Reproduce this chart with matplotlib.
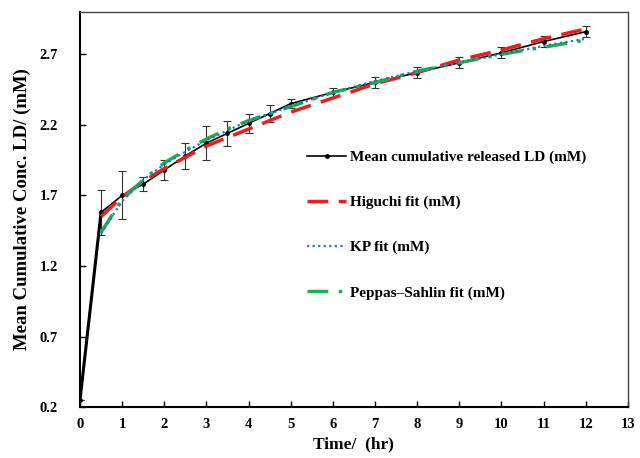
import matplotlib.pyplot as plt

# sampling times (hr)
time = [0, 0.5, 1, 1.5, 2, 2.5, 3, 3.5, 4, 4.5, 5, 6, 7, 8, 9, 10, 11, 12]
mean_ld = [0.25, 1.58, 1.70, 1.78, 1.88, 1.98, 2.07, 2.14, 2.21, 2.28, 2.35,
           2.43, 2.50, 2.57, 2.64, 2.71, 2.79, 2.86]
err_ld = [0.0, 0.16, 0.17, 0.05, 0.07, 0.09, 0.12, 0.09, 0.07, 0.06, 0.03,
          0.03, 0.04, 0.04, 0.04, 0.04, 0.04, 0.04]

# fitted curves (from t = 0.5 hr)
fit_time = time[1:]
higuchi = [1.55, 1.69, 1.80, 1.89, 1.97, 2.05, 2.11, 2.17, 2.23, 2.29,
           2.39, 2.49, 2.57, 2.66, 2.73, 2.81, 2.88]
kp = [1.43, 1.66, 1.81, 1.92, 2.01, 2.09, 2.16, 2.23, 2.28, 2.33,
      2.43, 2.51, 2.58, 2.64, 2.70, 2.76, 2.81]
peppas = [1.44, 1.67, 1.81, 1.93, 2.02, 2.10, 2.17, 2.23, 2.28, 2.33,
          2.43, 2.50, 2.58, 2.64, 2.70, 2.75, 2.80]

plt.rcParams['font.family'] = ['Liberation Serif', 'DejaVu Serif']
plt.rcParams['font.weight'] = 'bold'

fig = plt.figure(figsize=(6.4, 4.58), dpi=100)
ax = fig.add_axes([0.125, 0.111, 0.856, 0.863])

ax.errorbar(time, mean_ld, yerr=err_ld, fmt='none', ecolor='#333333',
            elinewidth=0.8, capsize=3, capthick=0.8, zorder=2)
ax.plot(time[:2], mean_ld[:2], color='black', lw=2.2, zorder=3)
ax.plot(time, mean_ld, color='black', lw=1.2, marker='o', markersize=2.5,
        label='Mean cumulative released LD (mM)', zorder=3)
ax.plot(fit_time, higuchi, color='#ee1c1c', lw=2.5, dashes=(6, 3),
        label='Higuchi fit (mM)', zorder=4)
ax.plot(fit_time, kp, color='#1f78c8', lw=1.6, linestyle=(0, (1, 1.5)),
        label='KP fit (mM)', zorder=5)
ax.plot(fit_time, peppas, color='#1fae4b', lw=2.5, dashes=(6, 3, 1, 3),
        label='Peppas\u2013Sahlin fit (mM)', zorder=4)

ax.set_xlim(0, 13)
ax.set_ylim(0.2, 3.0)
ax.set_xticks(range(0, 14))
ax.set_yticks([0.2, 0.7, 1.2, 1.7, 2.2, 2.7])
ax.set_yticklabels(['0.2', '0.7', '1.2', '1.7', '2.2', '2.7'])
ax.tick_params(direction='in', length=4, labelsize=10.5, width=1)
ax.tick_params(axis='y', pad=16)
ax.tick_params(axis='x', pad=8)
for lab in ax.get_xticklabels() + ax.get_yticklabels():
    lab.set_fontweight('bold')
for s in ['left', 'bottom']:
    ax.spines[s].set_linewidth(1.5)
for s in ['right', 'top']:
    ax.spines[s].set_linewidth(1.0)
    ax.spines[s].set_color('#444444')

ax.set_xlabel('Time/  (hr)', fontsize=12.5, fontweight='bold', labelpad=4)
ax.set_ylabel('Mean Cumulative Conc. LD/ (mM)', fontsize=13.5,
              fontweight='bold', labelpad=6)

ax.legend(loc='upper left', bbox_to_anchor=(0.39, 0.685), frameon=False,
          labelspacing=2.05, handlelength=2.5, handletextpad=0.3,
          prop={'weight': 'bold', 'size': 11})

fig.savefig('out.png', dpi=100)
